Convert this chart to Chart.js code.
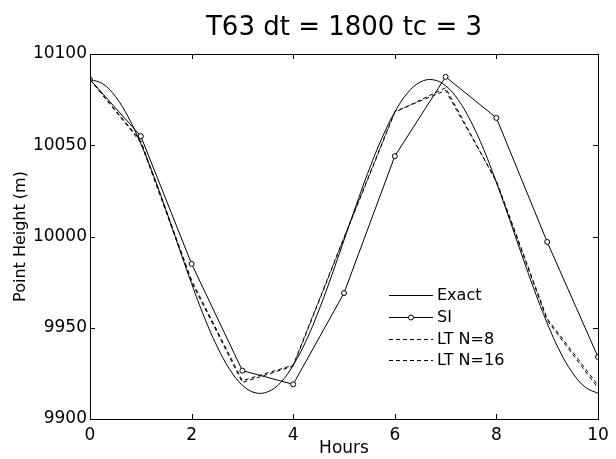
<!DOCTYPE html>
<html>
<head>
<meta charset="utf-8">
<script src="https://cdn.jsdelivr.net/npm/chart.js@4.4.1/dist/chart.umd.min.js"></script>
<style>
  html, body { margin: 0; padding: 0; background: #fff; }
</style>
</head>
<body>
<canvas id="grafico" width="616" height="459"></canvas>
<script>
// valores
const horasExata = [0, 0.25, 0.5, 0.75, 1, 1.25, 1.5, 1.75, 2, 2.25, 2.5, 2.75, 3, 3.25, 3.5, 3.75, 4,
  4.25, 4.5, 4.75, 5, 5.25, 5.5, 5.75, 6, 6.25, 6.5, 6.75, 7, 7.25, 7.5, 7.75, 8,
  8.25, 8.5, 8.75, 9, 9.25, 9.5, 9.75, 10];
const exata = [10086, 10083.7, 10076.7, 10065.6, 10050.8, 10033.4, 10014.1, 9994.0, 9974.2, 9955.8,
  9939.9, 9927.2, 9918.5, 9914.4, 9914.9, 9919.9, 9929.5, 9942.6, 9959.2, 9978.0,
  9998.0, 10018.0, 10037.1, 10054.1, 10068.2, 10078.6, 10084.6, 10085.9, 10082.6, 10074.8,
  10062.9, 10047.7, 10029.6, 10010.1, 9989.9, 9970.4, 9952.5, 9937.1, 9925.2, 9917.4, 9914.1];

const horas = [0, 1, 2, 3, 4, 5, 6, 7, 8, 9, 10];
const si = [10086, 10055, 9985, 9926.5, 9919, 9969, 10044, 10087.5, 10065, 9997, 9934];
const ltN8 = [10086, 10051.5, 9975, 9920, 9929, 9999, 10068, 10081.5, 10030, 9954, 9917];
const ltN16 = [10086, 10052.5, 9976, 9921, 9929.5, 9999.5, 10068.5, 10080, 10030.5, 9955, 9918.5];

const ticksX = [0, 2, 4, 6, 8, 10];
const ticksY = [9900, 9950, 10000, 10050, 10100];

const titulo = 'T63 dt = 1800 tc = 3';
const rotuloX = 'Hours';
const rotuloY = 'Point Height (m)';
const legendas = ['Exact', 'SI', 'LT N=8', 'LT N=16'];

const fonte = '"DejaVu Sans", sans-serif';

function pontos(xs, ys) {
  return xs.map((x, i) => ({ x: x, y: ys[i] }));
}

// moldura, marcas de escala, titulos e legenda no estilo do MATLAB
const estiloMatlab = {
  id: 'estiloMatlab',
  afterDraw(chart) {
    const ctx = chart.ctx;
    const a = chart.chartArea;
    const sx = chart.scales.x;
    const sy = chart.scales.y;
    ctx.save();
    ctx.strokeStyle = '#000';
    ctx.lineWidth = 1;
    ctx.strokeRect(a.left + 0.5, a.top + 0.5, a.right - a.left, a.bottom - a.top);
    ctx.beginPath();
    ticksX.forEach(v => {
      const px = Math.round(sx.getPixelForValue(v)) + 0.5;
      ctx.moveTo(px, a.bottom); ctx.lineTo(px, a.bottom - 5);
      ctx.moveTo(px, a.top); ctx.lineTo(px, a.top + 5);
    });
    ticksY.forEach(v => {
      const py = Math.round(sy.getPixelForValue(v)) + 0.5;
      ctx.moveTo(a.left, py); ctx.lineTo(a.left + 5, py);
      ctx.moveTo(a.right, py); ctx.lineTo(a.right - 5, py);
    });
    ctx.stroke();

    ctx.fillStyle = '#000';
    ctx.textAlign = 'center';
    ctx.textBaseline = 'middle';
    ctx.font = '26px ' + fonte;
    ctx.fillText(titulo, (a.left + a.right) / 2, 28);
    ctx.font = '17px ' + fonte;
    ctx.fillText(rotuloX, (a.left + a.right) / 2, 449);
    ctx.font = '16px ' + fonte;
    ctx.save();
    ctx.translate(21, (a.top + a.bottom) / 2);
    ctx.rotate(-Math.PI / 2);
    ctx.fillText(rotuloY, 0, 0);
    ctx.restore();

    // legenda
    const lx0 = 389, lx1 = 433;
    const linhasY = [295, 317, 339, 360];
    ctx.textAlign = 'left';
    chart.data.datasets.forEach((ds, i) => {
      const y = linhasY[i] + 0.5;
      ctx.beginPath();
      ctx.setLineDash(ds.borderDash || []);
      ctx.moveTo(lx0, y); ctx.lineTo(lx1, y);
      ctx.stroke();
      ctx.setLineDash([]);
      if (ds.pointRadius > 0) {
        ctx.beginPath();
        ctx.fillStyle = '#fff';
        ctx.arc((lx0 + lx1) / 2, y, ds.pointRadius, 0, Math.PI * 2);
        ctx.fill();
        ctx.stroke();
        ctx.fillStyle = '#000';
      }
      ctx.fillText(ds.label, 437, linhasY[i] + 1);
    });
    ctx.restore();
  }
};

const ctx = document.getElementById('grafico').getContext('2d');
new Chart(ctx, {
  type: 'scatter',
  data: {
    datasets: [{
      label: legendas[0],
      data: pontos(horasExata, exata),
      showLine: true,
      borderColor: '#000',
      borderWidth: 1,
      pointRadius: 0,
      tension: 0.4
    }, {
      label: legendas[1],
      data: pontos(horas, si),
      showLine: true,
      borderColor: '#000',
      backgroundColor: '#fff',
      borderWidth: 1,
      pointRadius: 2.5,
      pointBorderWidth: 1,
      pointBorderColor: '#000',
      pointBackgroundColor: '#fff'
    }, {
      label: legendas[2],
      data: pontos(horas, ltN8),
      showLine: true,
      borderColor: '#000',
      borderWidth: 1,
      borderDash: [4, 3],
      pointRadius: 0
    }, {
      label: legendas[3],
      data: pontos(horas, ltN16),
      showLine: true,
      borderColor: '#000',
      borderWidth: 1,
      borderDash: [4, 3],
      pointRadius: 0
    }]
  },
  options: {
    responsive: false,
    animation: false,
    devicePixelRatio: 1,
    layout: { padding: { left: 0, right: 18, top: 54, bottom: 0 } },
    plugins: {
      legend: { display: false },
      tooltip: { enabled: false }
    },
    scales: {
      x: {
        type: 'linear',
        min: 0,
        max: 10,
        afterBuildTicks: s => { s.ticks = ticksX.map(v => ({ value: v })); },
        afterFit: s => { s.height = 40; },
        grid: { display: false, drawTicks: false },
        border: { display: false },
        ticks: { color: '#000', padding: 6, font: { family: fonte, size: 17 }, callback: v => String(v) }
      },
      y: {
        type: 'linear',
        min: 9900,
        max: 10100,
        afterBuildTicks: s => { s.ticks = ticksY.map(v => ({ value: v })); },
        afterFit: s => { s.width = 90; },
        grid: { display: false, drawTicks: false },
        border: { display: false },
        ticks: { color: '#000', padding: 3, font: { family: fonte, size: 17 }, callback: v => String(v) }
      }
    }
  },
  plugins: [estiloMatlab]
});
</script>
</body>
</html>
